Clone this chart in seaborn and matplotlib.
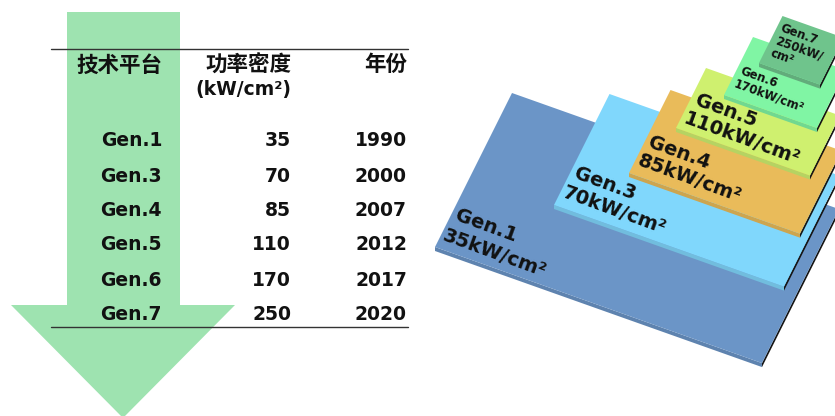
import matplotlib
matplotlib.use("Agg")
import matplotlib.pyplot as plt
from matplotlib.patches import Polygon
import seaborn as sns

# ---- data ---------------------------------------------------------------
generations = ["Gen.1", "Gen.3", "Gen.4", "Gen.5", "Gen.6", "Gen.7"]
power_density = [35, 70, 85, 110, 170, 250]          # kW/cm²
years = [1990, 2000, 2007, 2012, 2017, 2020]

header_platform = "技术平台"
header_density = "功率密度"
header_unit = "(kW/cm²)"
header_year = "年份"

# ---- layout (pixels, y grows downward) ---------------------------------
W, H = 835, 416
slab_anchor = [(435, 247), (554, 205), (629, 173), (676, 128), (724, 95), (759, 63)]
slab_width = [327, 230, 171, 134, 93, 61]
slab_depth = [154, 111, 83, 60, 58, 47]
slab_color = ["#6b95c7", "#80d7fc", "#e9bb5a", "#cff06f", "#80f5a4", "#6fc48c"]
label_pos = [(459, 206), (578, 164), (652, 133), (699, 91), (743, 65), (783, 22)]
label_step = [(-12, 20), (-11, 19), (-10, 18), (-11, 18), (-6, 12), (-5, 12.5)]
label_size = [14, 14, 14, 14, 8.5, 8.5]
label_wrap = [False, False, False, False, False, True]
SLOPE = 0.355          # pixel drop per pixel along the slab's long side
LEAN = 0.5             # pixel shift right per pixel of slab depth
THICK = 4
ANGLE = -20
TABLE_FS = 13.5

row_y = [141, 176, 210, 245, 280, 314]
col_right = [162, 291, 407]

sns.set_theme(style="white")
plt.rcParams["font.family"] = ["DejaVu Sans", "Noto Sans CJK SC"]

fig = plt.figure(figsize=(W / 100, H / 100), dpi=100)
ax = fig.add_axes([0, 0, 1, 1])
ax.set_xlim(0, W)
ax.set_ylim(H, 0)
ax.axis("off")


def shade(hex_color, k):
    r, g, b = matplotlib.colors.to_rgb(hex_color)
    return (r * k, g * k, b * k)


# ---- big downward arrow behind the table -------------------------------
arrow = Polygon([(67, 12), (180, 12), (180, 305), (235, 305), (123, 418),
                 (11, 305), (67, 305)], closed=True,
                facecolor="#9ee3b0", edgecolor="none", zorder=1)
ax.add_patch(arrow)

# ---- table ---------------------------------------------------------------
ax.plot([51, 408], [49, 49], color="#333333", lw=1.0, zorder=2)
ax.plot([51, 408], [327, 327], color="#333333", lw=1.0, zorder=2)

txt = dict(color="#111111", fontweight="bold", zorder=3, va="center", ha="right")
ax.text(col_right[0], 65, header_platform, fontsize=15.5, **txt)
ax.text(col_right[1], 65, header_density, fontsize=15.5, **txt)
ax.text(col_right[1], 89, header_unit, fontsize=TABLE_FS, **txt)
ax.text(col_right[2], 65, header_year, fontsize=15.5, **txt)
for y, g, p, yr in zip(row_y, generations, power_density, years):
    ax.text(col_right[0], y, g, fontsize=TABLE_FS, **txt)
    ax.text(col_right[1], y, str(p), fontsize=TABLE_FS, **txt)
    ax.text(col_right[2], y, str(yr), fontsize=TABLE_FS, **txt)

# ---- stacked slabs ------------------------------------------------------
for i, (g, p) in enumerate(zip(generations, power_density)):
    x0, y0 = slab_anchor[i]
    w, d = slab_width[i], slab_depth[i]
    bl = (x0, y0)
    br = (x0 + w, y0 + SLOPE * w)
    tr = (br[0] + LEAN * d, br[1] - d)
    tl = (x0 + LEAN * d, y0 - d)
    z = 10 + 3 * i
    # right-hand side face (in shadow)
    ax.add_patch(Polygon([br, tr, (tr[0], tr[1] + THICK), (br[0], br[1] + THICK)],
                         closed=True, facecolor="#151515", edgecolor="none", zorder=z))
    # front face
    ax.add_patch(Polygon([bl, br, (br[0], br[1] + THICK), (bl[0], bl[1] + THICK)],
                         closed=True, facecolor=shade(slab_color[i], 0.88),
                         edgecolor="none", zorder=z + 0.5))
    # top face
    ax.add_patch(Polygon([bl, br, tr, tl], closed=True, facecolor=slab_color[i],
                         edgecolor="none", zorder=z + 1))

    if label_wrap[i]:
        lines = [g, f"{p}kW/", "cm²"]
    else:
        lines = [g, f"{p}kW/cm²"]
    lx, ly = label_pos[i]
    dx, dy = label_step[i]
    for k, line in enumerate(lines):
        ax.text(lx + k * dx, ly + k * dy, line, fontsize=label_size[i],
                fontweight="bold", color="#111111", rotation=ANGLE,
                rotation_mode="anchor", ha="left", va="top", zorder=z + 2)

fig.savefig("out.png", dpi=100)
